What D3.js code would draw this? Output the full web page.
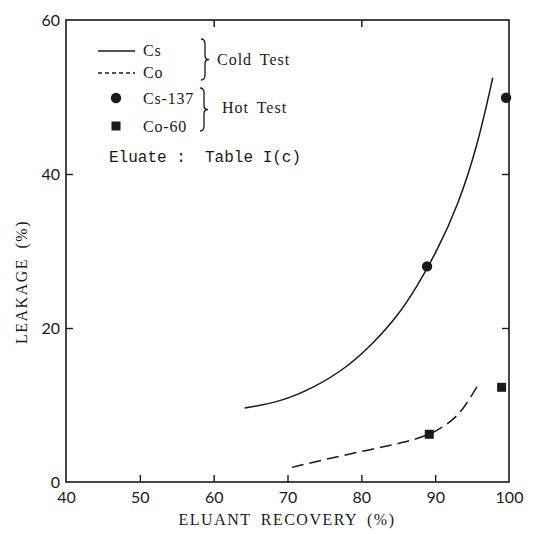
<!DOCTYPE html>
<html><head><meta charset="utf-8">
<script src="https://cdn.jsdelivr.net/npm/d3@7"></script>
<style>body{margin:0;background:#fff}</style>
</head><body>
<svg id="c" width="540" height="534"></svg>
<script>
// Data
const xTicks = [40, 50, 60, 70, 80, 90, 100];
const yTicks = [0, 20, 40, 60];
const csColdX = [64.2, 69.0, 73.5, 78.1, 81.6, 84.8, 87.5, 90.3, 93.0, 95.7, 97.8];
const csColdY = [9.6, 10.4, 12.2, 14.9, 18.0, 21.4, 25.3, 30.1, 35.7, 43.5, 52.5];
const coColdX = [70.6, 75.8, 81.2, 85.6, 89.3, 92.0, 93.8, 95.8];
const coColdY = [1.9, 3.1, 4.2, 5.1, 6.1, 7.7, 9.4, 12.6];
const cs137X = [88.9, 99.6];
const cs137Y = [28.0, 49.9];
const co60X = [89.2, 99.0];
const co60Y = [6.2, 12.3];

const svg = d3.select("#c");
const L = 66, R = 509, T = 20, B = 482;
const x = d3.scaleLinear().domain([40, 100]).range([L, R]);
const y = d3.scaleLinear().domain([0, 60]).range([B, T]);
const ink = "#1a1a1a";
const sans = "Lato, 'Open Sans', sans-serif";
const serif = "'Liberation Serif', 'DejaVu Serif', serif";

// frame
svg.append("rect").attr("x", L).attr("y", T).attr("width", R - L).attr("height", B - T)
  .attr("fill", "none").attr("stroke", ink).attr("stroke-width", 1.6);

// bottom axis (inward ticks)
const bx = svg.append("g").attr("transform", `translate(0,${B})`)
  .call(d3.axisBottom(x).tickValues(xTicks).tickSize(-7).tickPadding(10).tickFormat(d3.format("d")));
bx.select(".domain").remove();
bx.selectAll("line").attr("stroke", ink).attr("stroke-width", 1.4);
bx.selectAll("text").attr("font-family", sans).attr("font-size", 16).attr("fill", ink);
bx.selectAll(".tick").filter(d => d === 40 || d === 100).select("line").remove();

// left axis (inward ticks)
const ly = svg.append("g").attr("transform", `translate(${L},0)`)
  .call(d3.axisLeft(y).tickValues(yTicks).tickSize(-7).tickPadding(6).tickFormat(d3.format("d")));
ly.select(".domain").remove();
ly.selectAll("line").attr("stroke", ink).attr("stroke-width", 1.4);
ly.selectAll("text").attr("font-family", sans).attr("font-size", 16).attr("fill", ink);
ly.selectAll(".tick").filter(d => d === 0 || d === 60).select("line").remove();

// top axis: ticks only
const tx = svg.append("g").attr("transform", `translate(0,${T})`)
  .call(d3.axisTop(x).tickValues([60, 80]).tickSize(-7).tickFormat(""));
tx.select(".domain").remove();
tx.selectAll("line").attr("stroke", ink).attr("stroke-width", 1.4);

// right axis: ticks only
const ry = svg.append("g").attr("transform", `translate(${R},0)`)
  .call(d3.axisRight(y).tickValues([20, 40]).tickSize(-7).tickFormat(""));
ry.select(".domain").remove();
ry.selectAll("line").attr("stroke", ink).attr("stroke-width", 1.4);

// axis titles
svg.append("text").attr("x", 287).attr("y", 525).attr("text-anchor", "middle")
  .attr("font-family", serif).attr("font-size", 16).attr("letter-spacing", 1.5).attr("word-spacing", 4).attr("fill", ink)
  .text("ELUANT RECOVERY (%)");
svg.append("text").attr("transform", `translate(27,${282}) rotate(-90)`).attr("text-anchor", "middle")
  .attr("font-family", serif).attr("font-size", 16).attr("letter-spacing", 1.5).attr("word-spacing", 4).attr("fill", ink)
  .text("LEAKAGE (%)");

// curves
const line = d3.line().x(d => x(d[0])).y(d => y(d[1])).curve(d3.curveBasis);
svg.append("path").datum(csColdX.map((v, i) => [v, csColdY[i]])).attr("d", line)
  .attr("fill", "none").attr("stroke", ink).attr("stroke-width", 1.5);
svg.append("path").datum(coColdX.map((v, i) => [v, coColdY[i]])).attr("d", line)
  .attr("fill", "none").attr("stroke", ink).attr("stroke-width", 1.5).attr("stroke-dasharray", "12,6");

// markers
svg.selectAll("circle.cs").data(cs137X.map((v, i) => [v, cs137Y[i]])).enter().append("circle")
  .attr("cx", d => x(d[0])).attr("cy", d => y(d[1])).attr("r", 5.2).attr("fill", ink);
svg.selectAll("rect.co").data(co60X.map((v, i) => [v, co60Y[i]])).enter().append("rect")
  .attr("x", d => x(d[0]) - 4.5).attr("y", d => y(d[1]) - 4.5).attr("width", 9).attr("height", 9).attr("fill", ink);

// legend
const lg = svg.append("g");
lg.append("line").attr("x1", 98).attr("x2", 135).attr("y1", 51).attr("y2", 51).attr("stroke", ink).attr("stroke-width", 1.3);
lg.append("line").attr("x1", 98).attr("x2", 135).attr("y1", 73).attr("y2", 73).attr("stroke", ink).attr("stroke-width", 1.3).attr("stroke-dasharray", "4,3");
lg.append("circle").attr("cx", 116).attr("cy", 98).attr("r", 5.2).attr("fill", ink);
lg.append("rect").attr("x", 111.5).attr("y", 121.5).attr("width", 9).attr("height", 9).attr("fill", ink);
const lt = [["Cs", 56], ["Co", 78], ["Cs-137", 104], ["Co-60", 132]];
lt.forEach(([t, yy]) => lg.append("text").attr("x", 143).attr("y", yy).attr("font-family", serif)
  .attr("font-size", 16).attr("letter-spacing", 0.8).attr("fill", ink).text(t));
// braces
function brace(xb, y0, y1) {
  const m = (y0 + y1) / 2;
  return `M${xb - 4},${y0} Q${xb},${y0} ${xb},${y0 + 5} L${xb},${m - 4} Q${xb},${m} ${xb + 4},${m} Q${xb},${m} ${xb},${m + 4} L${xb},${y1 - 5} Q${xb},${y1} ${xb - 4},${y1}`;
}
lg.append("path").attr("d", brace(205, 39, 80)).attr("fill", "none").attr("stroke", ink).attr("stroke-width", 1.3);
lg.append("path").attr("d", brace(204, 88, 131)).attr("fill", "none").attr("stroke", ink).attr("stroke-width", 1.3);
lg.append("text").attr("x", 217).attr("y", 65).attr("font-family", serif).attr("font-size", 16)
  .attr("letter-spacing", 1).attr("word-spacing", 3).attr("fill", ink).text("Cold Test");
lg.append("text").attr("x", 222).attr("y", 113).attr("font-family", serif).attr("font-size", 16)
  .attr("letter-spacing", 1).attr("word-spacing", 3).attr("fill", ink).text("Hot Test");
lg.append("text").attr("x", 109).attr("y", 162).attr("font-family", "'Liberation Mono', 'DejaVu Sans Mono', monospace")
  .attr("font-size", 16).attr("fill", ink).attr("xml:space", "preserve").style("white-space", "pre").text("Eluate :  Table I(c)");
</script>
</body></html>
